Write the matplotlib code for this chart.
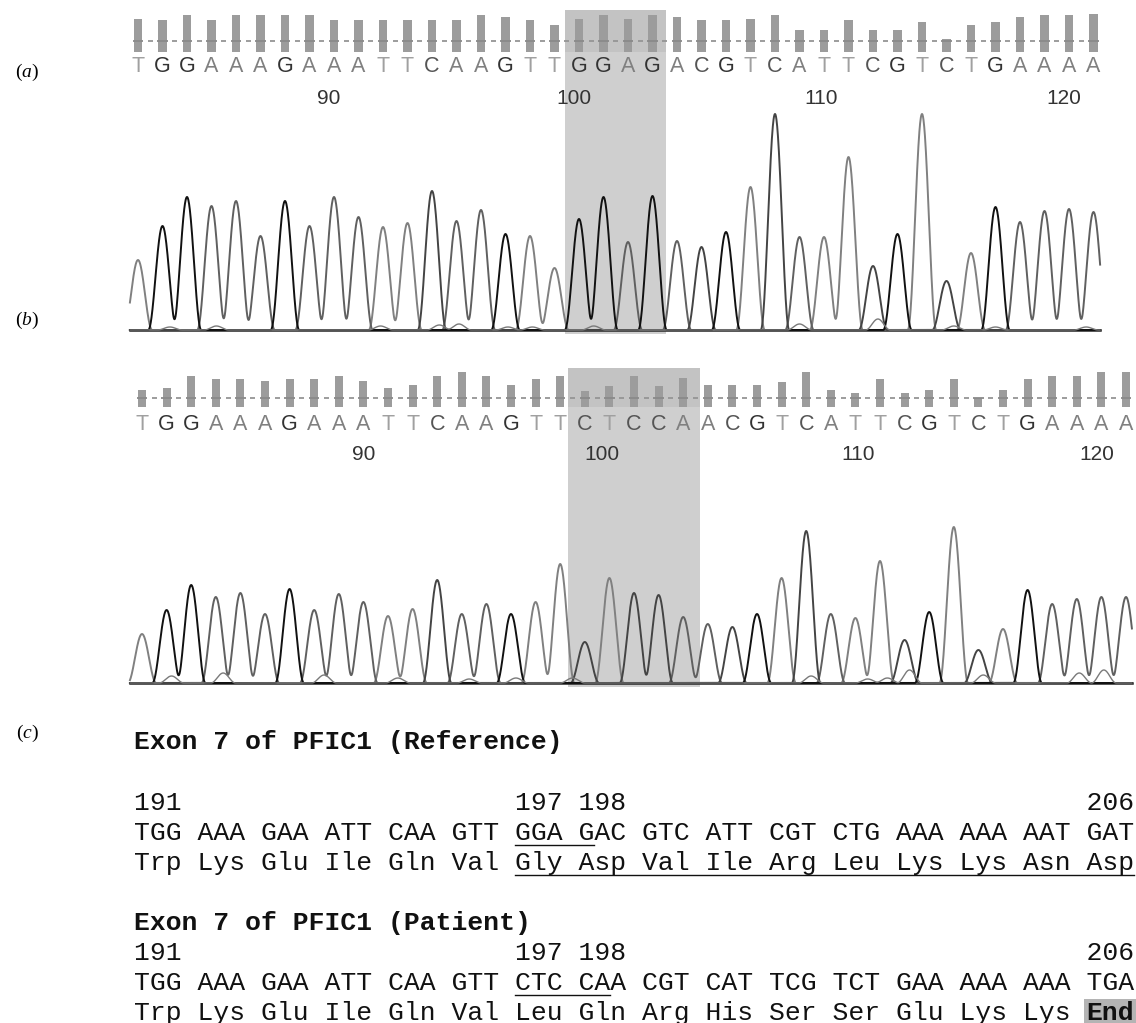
import numpy as np
import matplotlib
matplotlib.use('Agg')
import matplotlib.pyplot as plt

plt.rcParams['mathtext.fontset'] = 'custom'
plt.rcParams['mathtext.rm'] = 'Liberation Serif'
plt.rcParams['mathtext.it'] = 'Liberation Serif:italic'

W, H = 1136, 1023

# (a) reference sequence trace
seq_a = "TGGAAAGAAATTCAAGTTGGAGACGTCATTCGTCTGAAAA"
qual_a = [33, 32, 37, 32, 37, 37, 37, 37, 32, 32, 32, 32, 32, 32, 37, 35, 32, 27, 33, 37,
          33, 37, 35, 32, 32, 33, 37, 22, 22, 32, 22, 22, 30, 13, 27, 30, 35, 37, 37, 38]
peak_a = [70, 104, 133, 124, 129, 94, 129, 104, 133, 113, 103, 107, 139, 109, 120, 96, 94, 62, 111, 133,
          88, 134, 89, 83, 98, 143, 216, 93, 93, 173, 64, 96, 216, 49, 77, 123, 108, 119, 121, 118]
minor_pos_a = [1.3, 3.2, 9.9, 12.3, 13.1, 15.1, 16.1, 18.6, 27.0, 30.2, 33.3, 35.0, 38.7]
minor_h_a = [3, 4, 4, 5, 6, 3, 3, 4, 6, 11, 4, 3, 3]
ticks_a = [7.8, 17.8, 27.9, 37.8]

# (b) patient sequence trace
seq_b = "TGGAAAGAAATTCAAGTTCTCCAACGTCATTCGTCTGAAAA"
qual_b = [17, 19, 31, 28, 28, 26, 28, 28, 31, 26, 19, 22, 31, 35, 31, 22, 28, 31, 16, 21,
          31, 21, 29, 22, 22, 22, 25, 35, 17, 14, 28, 14, 17, 28, 9, 17, 28, 31, 31, 35, 35]
peak_b = [49, 73, 98, 86, 90, 69, 94, 73, 89, 81, 67, 74, 103, 69, 79, 69, 81, 119, 41, 105,
          90, 88, 66, 59, 56, 69, 105, 152, 69, 65, 122, 43, 71, 156, 33, 54, 93, 79, 84, 86, 86]
minor_pos_b = [1.2, 3.3, 7.4, 10.4, 13.3, 15.2, 17.5, 27.2, 29.5, 30.3, 31.2, 34.2, 38.1, 39.1]
minor_h_b = [7, 10, 8, 5, 4, 5, 5, 7, 4, 5, 13, 8, 10, 13]
ticks_b = [9.0, 18.7, 29.1, 38.8]

tick_labels = ['90', '100', '110', '120']

# (c) exon 7 text
codons_ref = ['TGG', 'AAA', 'GAA', 'ATT', 'CAA', 'GTT', 'GGA', 'GAC',
              'GTC', 'ATT', 'CGT', 'CTG', 'AAA', 'AAA', 'AAT', 'GAT']
aa_ref = ['Trp', 'Lys', 'Glu', 'Ile', 'Gln', 'Val', 'Gly', 'Asp',
          'Val', 'Ile', 'Arg', 'Leu', 'Lys', 'Lys', 'Asn', 'Asp']
codons_pat = ['TGG', 'AAA', 'GAA', 'ATT', 'CAA', 'GTT', 'CTC', 'CAA',
              'CGT', 'CAT', 'TCG', 'TCT', 'GAA', 'AAA', 'AAA', 'TGA']
aa_pat = ['Trp', 'Lys', 'Glu', 'Ile', 'Gln', 'Val', 'Leu', 'Gln',
          'Arg', 'His', 'Ser', 'Ser', 'Glu', 'Lys', 'Lys', 'End']
codon_nums = ['191', '197', '198', '206']
codon_idx = [0, 6, 7, 15]

trace_col = {'A': '#606060', 'C': '#444444', 'G': '#111111', 'T': '#808080'}
letter_col = {'A': '#808080', 'C': '#555555', 'G': '#333333', 'T': '#a0a0a0'}

fig = plt.figure(figsize=(W / 100, H / 100), dpi=100)


def bump(d, w):
    # smooth cos^2 peak of half-width w (in bases)
    return np.where(np.abs(d) < w, np.cos(np.pi * d / (2 * w)) ** 2, 0.0)


def chromatogram(top, bottom, base_px, x0, step, seq, qual, peaks, mpos, mh, ticks,
                 mark, span, bar_px, dash_px, let_px, num_px, shade_px):
    ax = fig.add_axes([0, 1 - bottom / H, 1, (bottom - top) / H])
    ax.set_xlim(-x0 / step, (W - x0) / step)
    ax.set_ylim(base_px - bottom, base_px - top)
    ax.axis('off')
    idx = np.arange(len(seq))
    bar_y = base_px - bar_px
    dash_y = np.full(len(seq), base_px - dash_px)

    # highlighted bases
    ax.fill_between(mark, -4, base_px - shade_px, color='#cfcfcf', lw=0, zorder=0)
    ax.fill_between(mark, bar_y, base_px - shade_px, color='#c3c3c3', lw=0, zorder=0)

    # quality bars
    ax.bar(idx, qual, bottom=bar_y, width=0.33, color='#9c9c9c', zorder=2)
    ax.hlines(dash_y, idx - 0.21, idx + 0.21, color='#8a8a8a', lw=1.3, zorder=3)
    ax.hlines(dash_y[:-1], idx[:-1] + 0.4, idx[:-1] + 0.6, color='#959595', lw=1.3, zorder=3)

    for i, b in enumerate(seq):
        ax.text(i, base_px - let_px, b, ha='center', va='center', fontsize=15.5,
                family='Liberation Sans', color=letter_col[b])
    for p, lab in zip(ticks, tick_labels):
        ax.text(p, base_px - num_px, lab, ha='center', va='center', fontsize=15,
                family='Liberation Sans', color='#333333')

    # trace, one curve per base channel
    x = np.linspace(span[0], span[1], 4000)
    bases = np.array(list(seq))
    ax.plot(span, [0, 0], color='#222222', lw=1.8, zorder=3)
    for b in 'TACG':
        y = np.zeros_like(x)
        for i in idx[bases == b]:
            y += peaks[i] * bump(x - i, 0.58)
        ax.plot(x, y, color=trace_col[b], lw=1.4, zorder=4)
    y = np.zeros_like(x)
    for p, h in zip(mpos, mh):
        y += h * bump(x - p, 0.5)
    ax.plot(x, y, color='#7a7a7a', lw=1.0, zorder=4)
    return ax


chromatogram(0, 345, 330, 138, 24.5, seq_a, qual_a, peak_a, minor_pos_a, minor_h_a, ticks_a,
             (17.43, 21.55), (-0.33, 39.27), 52, 41, 67, 99, 10)
chromatogram(345, 700, 683, 142, 24.6, seq_b, qual_b, peak_b, minor_pos_b, minor_h_b, ticks_b,
             (17.32, 22.68), (-0.49, 40.24), 407, 398, 425, 455, 368)

# overlay for panel labels and the sequence text
ax_t = fig.add_axes([0, 0, 1, 1])
ax_t.set_xlim(0, W)
ax_t.set_ylim(H, 0)
ax_t.axis('off')

for lab, yy in zip(['a', 'b', 'c'], [72, 320, 733]):
    ax_t.text(27, yy, r'($\mathit{%s}$)' % lab, ha='center', va='center', fontsize=14,
              family='Liberation Serif')

mono = dict(family='Liberation Mono', fontsize=19, color='#111111', va='baseline')
left = 134


def num_row():
    cols = [4 * i for i in codon_idx]
    s = [' '] * (4 * len(codons_ref) - 1)
    for lab, c in zip(codon_nums, cols):
        s[c:c + len(lab)] = list(lab)
    return ''.join(s)


ax_t.text(left, 749, 'Exon 7 of PFIC1 (Reference)', weight='bold', **mono)
ax_t.text(left, 810, num_row(), **mono)
row = ax_t.text(left, 840, ' '.join(codons_ref), **mono)
ax_t.text(left, 870, ' '.join(aa_ref), **mono)

ax_t.text(left, 930, 'Exon 7 of PFIC1 (Patient)', weight='bold', **mono)
ax_t.text(left, 960, num_row(), **mono)
ax_t.text(left, 990, ' '.join(codons_pat), **mono)
ax_t.text(left, 1020, ' '.join(aa_pat[:-1]) + ' ', **mono)

fig.canvas.draw()
cw = row.get_window_extent().width / len(row.get_text())

ax_t.text(left + 60 * cw, 1020, aa_pat[-1], weight='bold',
          bbox=dict(facecolor='#b4b4b4', edgecolor='none', pad=1.5), **mono)

# underlines for the changed codons
ax_t.plot([left + 24 * cw, left + 29 * cw], [845, 845], color='#111111', lw=1)
ax_t.plot([left + 24 * cw, left + 63 * cw], [875, 875], color='#111111', lw=1)
ax_t.plot([left + 24 * cw, left + 30 * cw], [995, 995], color='#111111', lw=1)

fig.savefig('out.png', dpi=100)
